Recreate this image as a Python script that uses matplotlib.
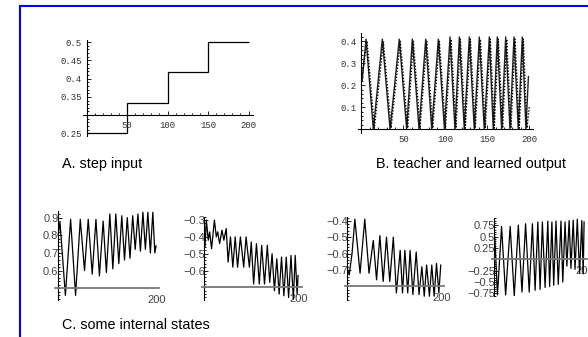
import matplotlib
matplotlib.use("Agg")
import matplotlib.pyplot as plt
from matplotlib.lines import Line2D
from matplotlib.ticker import FixedLocator, MultipleLocator

W, H = 588, 337

# A. step input
step_edges = [1, 50, 100, 150, 200]
step_levels = [0.25, 0.333, 0.417, 0.5]

# B. teacher (solid) and learned (dotted) output, turning points
teacher_x = [1, 5.6, 14.3, 25, 34.2, 45.2, 54, 60.7, 68.7, 76.7, 83.8, 91.7, 99, 105.6,
             111.5, 116.7, 122.6, 128.6, 134.5, 140.5, 146.4, 152.4, 157.1, 161.9, 167.1,
             171.9, 177, 181.8, 186.9, 191.7, 196, 199]
teacher_y = [0.22, 0.41, 0, 0.41, 0, 0.41, 0, 0.41, 0, 0.41, 0, 0.41, 0, 0.42,
             0, 0.42, 0, 0.42, 0, 0.42, 0, 0.42, 0, 0.42, 0,
             0.42, 0, 0.42, 0, 0.42, 0, 0.24]
learned_x = [1, 6.8, 15.5, 26.2, 35.4, 46.4, 55.2, 61.9, 69.9, 77.9, 85, 92.9, 100.2, 106.8,
             112.7, 117.9, 123.8, 129.8, 135.7, 141.7, 147.6, 153.6, 158.3, 163.1, 168.3,
             173.1, 178.2, 183, 188.1, 192.9, 197.2, 200]
learned_y = [0.25, 0.40, 0.005, 0.40, 0.005, 0.40, 0.005, 0.40, 0.005, 0.40, 0.005, 0.40, 0.005, 0.41,
             0.005, 0.41, 0.005, 0.41, 0.005, 0.41, 0.005, 0.41, 0.005, 0.41, 0.005,
             0.41, 0.005, 0.41, 0.005, 0.41, 0.005, 0.10]

# C. some internal states
c1_x = [1, 4.6, 15.5, 26, 36, 45.5, 54, 61.5, 69.5, 77, 84, 91.5, 98, 105, 111, 117, 123,
        129, 134.5, 140, 145.5, 151, 156, 161.5, 166.5, 171.5, 176.5, 181.5, 186.5, 191.5,
        195.5, 198]
c1_y = [0.80, 0.875, 0.46, 0.89, 0.46, 0.89, 0.60, 0.89, 0.58, 0.89, 0.57, 0.88, 0.59, 0.92,
        0.61, 0.92, 0.64, 0.91, 0.66, 0.90, 0.67, 0.91, 0.72, 0.92, 0.71, 0.93, 0.72, 0.93,
        0.70, 0.93, 0.70, 0.74]

c2_x = [1, 4, 8, 11, 15, 21, 25, 28, 32, 37, 41, 46, 50, 55, 60, 65, 70, 76, 83, 88, 95, 99,
        104, 110, 116, 121, 127, 133, 138, 143, 148, 153, 158, 163, 168, 173, 178, 183, 188,
        192, 196, 198]
c2_y = [-0.46, -0.30, -0.42, -0.37, -0.47, -0.30, -0.40, -0.37, -0.44, -0.36, -0.42, -0.35,
        -0.55, -0.40, -0.58, -0.40, -0.58, -0.40, -0.58, -0.40, -0.58, -0.43, -0.68, -0.44,
        -0.68, -0.45, -0.68, -0.45, -0.67, -0.50, -0.72, -0.53, -0.74, -0.52, -0.75, -0.52,
        -0.76, -0.51, -0.77, -0.51, -0.74, -0.63]

c3_x = [1, 4, 10, 16, 27, 37, 46, 55, 62, 69, 76, 83, 90, 97.5, 104, 112, 117, 122, 128, 133,
        139, 146, 152, 158, 163, 168, 174, 179, 184, 189, 194, 198]
c3_y = [-0.70, -0.73, -0.60, -0.39, -0.72, -0.39, -0.72, -0.52, -0.76, -0.49, -0.77, -0.50,
        -0.77, -0.50, -0.84, -0.58, -0.84, -0.58, -0.84, -0.58, -0.85, -0.59, -0.85, -0.68,
        -0.86, -0.67, -0.86, -0.67, -0.86, -0.66, -0.84, -0.67]

c4_x = [1, 7, 16, 25, 35, 44, 53, 61, 69, 77, 84, 90, 96, 101, 106, 112, 118, 122, 127, 131,
        136, 141, 147, 151, 156, 160, 165, 169, 174, 178, 183, 188, 193, 196, 198]
c4_y = [0.50, -0.78, 0.72, -0.78, 0.72, -0.80, 0.75, -0.72, 0.78, -0.72, 0.78, -0.68, 0.82,
        -0.66, 0.82, -0.62, 0.84, -0.60, 0.82, -0.57, 0.84, -0.55, 0.84, -0.50, 0.82, -0.15,
        0.85, -0.20, 0.86, -0.22, 0.88, -0.30, 0.85, -0.32, 0.82]

captions = ["A. step input", "B. teacher and learned output", "C. some internal states"]

MONO = "Liberation Mono"
SANS = "Liberation Sans"

fig = plt.figure(figsize=(W / 100, H / 100), dpi=100)


def px_axes(x0, x1, y0, y1):
    # pixel box (from top-left) -> figure axes
    return fig.add_axes([x0 / W, 1 - y1 / H, (x1 - x0) / W, (y1 - y0) / H])


def mma_axes(box, xlim, ylim, origin_y):
    ax = px_axes(*box)
    ax.patch.set_visible(False)
    ax.set_xlim(xlim)
    ax.set_ylim(ylim)
    ax.spines["top"].set_visible(False)
    ax.spines["right"].set_visible(False)
    ax.spines["left"].set_position(("data", 0))
    ax.spines["bottom"].set_position(("data", origin_y))
    for s in ("left", "bottom"):
        ax.spines[s].set_linewidth(0.8)
    ax.tick_params(which="both", direction="in", width=0.6)
    ax.tick_params(which="major", length=3)
    ax.tick_params(which="minor", length=1.5)
    return ax


def top_panel_ticks(ax, yticks, ylabels):
    ax.yaxis.set_major_locator(FixedLocator(yticks))
    ax.set_yticklabels(ylabels, family=MONO, fontsize=6.5, color="#333333")
    ax.xaxis.set_major_locator(FixedLocator([50, 100, 150, 200]))
    ax.set_xticklabels(["50", "100", "150", "200"], family=MONO, fontsize=6.5, color="#333333")
    ax.xaxis.set_minor_locator(MultipleLocator(10))
    ax.tick_params(axis="y", pad=3.5)
    ax.tick_params(axis="x", pad=4)


# panel A
axA = mma_axes((82.7, 253, 40, 136), (-4.7, 205.5), (0.2426, 0.506), 0.3)
axA.stairs(step_levels, step_edges, baseline=None, color="black", lw=0.9)
top_panel_ticks(axA, [0.25, 0.35, 0.4, 0.45, 0.5], ["0.25", "0.35", "0.4", "0.45", "0.5"])
axA.yaxis.set_minor_locator(MultipleLocator(0.01))

# panel B
axB = mma_axes((358.3, 533.3, 33, 133), (-3.6, 204.8), (-0.017, 0.438), 0.0)
axB.plot(teacher_x, teacher_y, color="#222222", lw=1.0)
axB.plot(learned_x, learned_y, color="black", lw=1.0, ls=(0, (1, 1.2)))
top_panel_ticks(axB, [0.1, 0.2, 0.3, 0.4], ["0.1", "0.2", "0.3", "0.4"])
axB.yaxis.set_minor_locator(MultipleLocator(0.02))

# panels C
c_panels = [
    ((55, 159.3, 211, 300), (-5.4, 204.5), (0.434, 0.937), 0.5, c1_x, c1_y,
     [0.6, 0.7, 0.8, 0.9], ["0.6", "0.7", "0.8", "0.9"]),
    ((201.5, 301.7, 216.7, 300), (-6.3, 205.7), (-0.775, -0.28), -0.7, c2_x, c2_y,
     [-0.6, -0.5, -0.4, -0.3], ["\u22120.6", "\u22120.5", "\u22120.4", "\u22120.3"]),
    ((345, 444, 216.7, 300), (-4.9, 204.9), (-0.883, -0.375), -0.8, c3_x, c3_y,
     [-0.7, -0.6, -0.5, -0.4], ["\u22120.7", "\u22120.6", "\u22120.5", "\u22120.4"]),
    ((492.3, 588, 218.3, 296), (-4.4, 206.6), (-0.805, 0.90), 0.0, c4_x, c4_y,
     [-0.75, -0.5, -0.25, 0.25, 0.5, 0.75],
     ["\u22120.75", "\u22120.5", "\u22120.25", "0.25", "0.5", "0.75"]),
]
for box, xl, yl, oy, xs, ys, yt, ytl in c_panels:
    ax = mma_axes(box, xl, yl, oy)
    ax.plot(xs, ys, color="black", lw=0.9)
    ax.spines["bottom"].set_color("#777777")
    ax.spines["bottom"].set_linewidth(1.3)
    ax.yaxis.set_major_locator(FixedLocator(yt))
    ax.set_yticklabels(ytl, family=SANS, fontsize=8, color="#444444")
    ax.yaxis.set_minor_locator(MultipleLocator((yt[1] - yt[0]) / 5))
    ax.xaxis.set_major_locator(FixedLocator([200]))
    ax.set_xticklabels(["200"], family=SANS, fontsize=8, color="#444444")
    ax.tick_params(axis="y", pad=-0.5)
    ax.tick_params(axis="x", pad=4.5, length=0)

# captions
fig.text(62 / W, 1 - 168 / H, captions[0], family=SANS, fontsize=10.4, va="baseline")
fig.text(376 / W, 1 - 168 / H, captions[1], family=SANS, fontsize=10.4, va="baseline")
fig.text(62 / W, 1 - 329.3 / H, captions[2], family=SANS, fontsize=10.4, va="baseline")

# blue frame (top and left edges)
fig.add_artist(Line2D([20 / W, 20 / W], [0, 1 - 6 / H], color="blue", lw=1.5))
fig.add_artist(Line2D([20 / W, 1], [1 - 6 / H, 1 - 6 / H], color="blue", lw=1.5))

fig.savefig("out.png", dpi=100)
